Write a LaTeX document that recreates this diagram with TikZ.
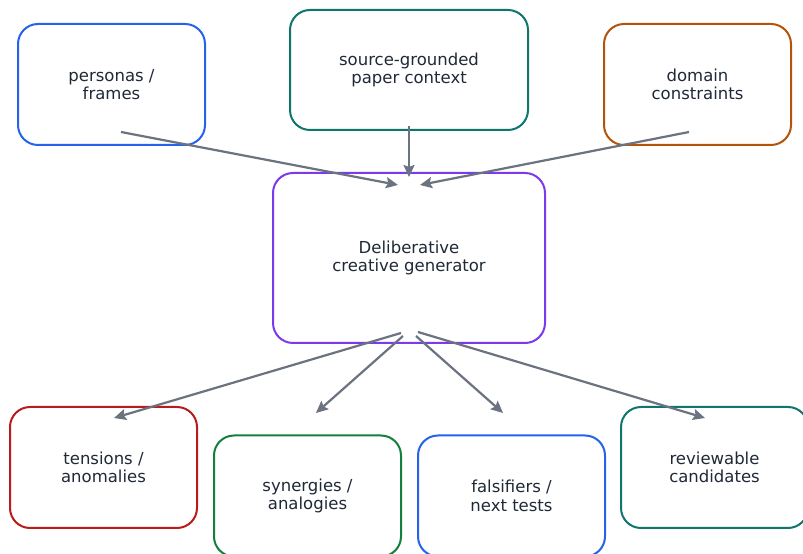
\documentclass[tikz,border=0pt]{standalone}
\usepackage{fontspec}
\setmainfont{DejaVu Sans}
\usepackage{tikz}
\usetikzlibrary{arrows.meta, positioning}
\definecolor{ink}{HTML}{1F2937}
\definecolor{wire}{HTML}{6B7280}
\definecolor{cblue}{HTML}{2563EB}
\definecolor{cteal}{HTML}{0F766E}
\definecolor{corange}{HTML}{B45309}
\definecolor{cpurple}{HTML}{7C3AED}
\definecolor{cred}{HTML}{B91C1C}
\definecolor{cgreen}{HTML}{15803D}
\tikzstyle{stage}=[rectangle, rounded corners=20pt, line width=2pt, fill=white, text=ink, align=center, minimum width=187pt, minimum height=121pt, font=\fontsize{16.5}{18.5}\selectfont]
\tikzstyle{flow}=[draw=wire, line width=2.2pt, -{Stealth[length=12pt, width=11pt, inset=2pt]}]

\begin{document}
\begin{tikzpicture}[x=1pt, y=1pt, node distance=188pt]
    \useasboundingbox[fill=white] (0,0) rectangle (803,554);

    % Generator:
    \node[stage, draw=cpurple, minimum width=272pt, minimum height=170pt] (gen) at (409,296) {Deliberative\\creative generator};

    % Inputs:
    \node[stage, draw=cteal, minimum width=238pt, minimum height=120pt] (source) [above of=gen] {source-grounded\\paper context};
    \node[stage, draw=cblue] (personas) [above of=gen, xshift=-297.5pt, yshift=-14.5pt] {personas /\\frames};
    \node[stage, draw=corange] (domain) [above of=gen, xshift=288.5pt, yshift=-14.5pt] {domain\\constraints};

    % Outputs:
    \node[stage, draw=cred] (tensions) [below of=gen, xshift=-305.5pt, yshift=-21.5pt] {tensions /\\anomalies};
    \node[stage, draw=cgreen] (synergies) [below of=gen, xshift=-101.5pt, yshift=-50pt] {synergies /\\analogies};
    \node[stage, draw=cblue] (falsifiers) [below of=gen, xshift=102.5pt, yshift=-50pt] {falsifiers /\\next tests};
    \node[stage, draw=cteal] (reviewable) [below of=gen, xshift=305.5pt, yshift=-21.5pt] {reviewable\\candidates};

    % Edges in:
    \draw[flow] ([shift={(9.5,-47.5)}]personas.center) -- ([shift={(-11,73)}]gen.center);
    \draw[flow] ([shift={(0,-56)}]source.center) -- ([shift={(0,81)}]gen.center);
    \draw[flow] ([shift={(-8.5,-47.5)}]domain.center) -- ([shift={(11,73)}]gen.center);

    % Edges out:
    \draw[flow] ([shift={(-8,-75)}]gen.center) -- ([shift={(10.5,49.5)}]tensions.center);
    \draw[flow] ([shift={(-6,-78)}]gen.center) -- ([shift={(8.5,83)}]synergies.center);
    \draw[flow] ([shift={(7,-78)}]gen.center) -- ([shift={(-8.5,83)}]falsifiers.center);
    \draw[flow] ([shift={(9,-74)}]gen.center) -- ([shift={(-9.5,49.5)}]reviewable.center);
\end{tikzpicture}
\end{document}
